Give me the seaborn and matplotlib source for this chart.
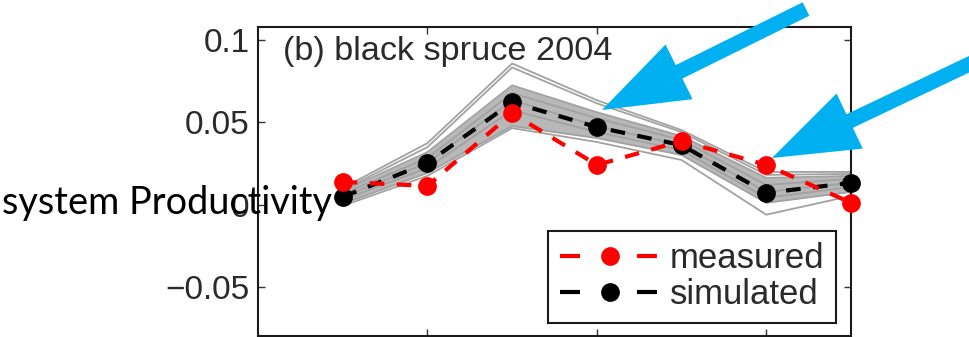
import matplotlib
matplotlib.use("Agg")
import matplotlib.pyplot as plt
from matplotlib.patches import FancyArrow
import numpy as np
import pandas as pd
import seaborn as sns

# ---- data -------------------------------------------------------------
steps = [1, 2, 3, 4, 5, 6, 7]
measured = [0.0139, 0.0114, 0.0554, 0.0241, 0.0386, 0.0241, 0.0012]
simulated = [0.0048, 0.0253, 0.0620, 0.0470, 0.0361, 0.0072, 0.0133]

# ensemble of model runs (parameter perturbations)
run_a = [0.0102, 0.0373, 0.0855, 0.0633, 0.0452, 0.0199, 0.0199]
run_b = [0.0090, 0.0349, 0.0831, 0.0614, 0.0440, 0.0181, 0.0187]
run_c = [0.0084, 0.0319, 0.0723, 0.0560, 0.0416, 0.0163, 0.0175]
run_d = [0.0066, 0.0283, 0.0675, 0.0524, 0.0392, 0.0120, 0.0157]
run_e = [0.0048, 0.0253, 0.0633, 0.0476, 0.0361, 0.0078, 0.0133]
run_f = [0.0030, 0.0223, 0.0572, 0.0440, 0.0331, 0.0042, 0.0108]
run_g = [0.0006, 0.0193, 0.0476, 0.0404, 0.0301, 0.0012, 0.0078]
run_h = [-0.0006, 0.0175, 0.0464, 0.0380, 0.0271, -0.0060, 0.0054]

y_ticks = [-0.05, 0, 0.05, 0.1]
y_tick_labels = ["\u22120.05", "0", "0.05", "0.1"]
x_ticks = [2, 4, 6]

panel_title = "(b) black spruce 2004"
side_label = "system Productivity"

runs = {"a": run_a, "b": run_b, "c": run_c, "d": run_d,
        "e": run_e, "f": run_f, "g": run_g, "h": run_h}
ens = pd.DataFrame([(k, s, v) for k, vals in runs.items() for s, v in zip(steps, vals)],
                   columns=["run", "step", "value"])
obs = pd.DataFrame({"step": steps, "measured": measured, "simulated": simulated})

# ---- style ------------------------------------------------------------
sns.set_theme(style="white")
plt.rcParams["font.family"] = ["Liberation Sans", "DejaVu Sans"]
plt.rcParams["lines.scale_dashes"] = False

W, H, DPI = 970, 337, 100
fig = plt.figure(figsize=(W / DPI, H / DPI), dpi=DPI, facecolor="white")
ax = fig.add_axes([258 / W, 1 - 335.5 / H, (851 - 258) / W, (335.5 - 27) / H])
ax.set_facecolor("white")

# band of ensemble runs
band_lo = np.minimum.reduce([run_c, run_d, run_e, run_f, run_g])
band_hi = np.maximum.reduce([run_c, run_d, run_e, run_f, run_g])
ax.fill_between(steps, band_lo, band_hi, color="#b8b8b8", lw=0, zorder=1)
sns.lineplot(data=ens, x="step", y="value", units="run", estimator=None,
             color="#a2a2a2", lw=1.3, ax=ax, zorder=2, legend=False)

dash = (0, (10.5, 9.0))
sns.lineplot(data=obs, x="step", y="simulated", color="black", marker="o",
             markersize=13.5, markeredgewidth=0, lw=3, linestyle=dash,
             ax=ax, zorder=3, label="simulated", clip_on=False)
sns.lineplot(data=obs, x="step", y="measured", color="#ff0000", marker="o",
             markersize=13.5, markeredgewidth=0, lw=3, linestyle=dash,
             ax=ax, zorder=4, label="measured", clip_on=False)

ax.set_xlim(0, 7)
ax.set_ylim(-0.0791, 0.1076)
ax.set_xticks(x_ticks)
ax.set_xticklabels([])
ax.set_yticks(y_ticks)
ax.set_yticklabels(y_tick_labels)
ax.set_xlabel("")
ax.set_ylabel("")
ax.tick_params(direction="in", length=5, width=1, colors="#333333",
               top=True, right=True, left=True, bottom=True,
               labelsize=24, labelcolor="#2a2a2a", pad=6)
for sp in ax.spines.values():
    sp.set_visible(True)
    sp.set_color("#1a1a1a")
    sp.set_linewidth(1.5)

ax.text(25 / 593, (335.5 - 60) / 308.5, panel_title, transform=ax.transAxes,
        fontsize=24.7, color="#2a2a2a", ha="left", va="baseline", zorder=6)

handles, labels = ax.get_legend_handles_labels()
order = [labels.index("measured"), labels.index("simulated")]
leg = ax.legend([handles[i] for i in order], [labels[i] for i in order],
                loc="lower right", bbox_to_anchor=((836 - 258) / 593, (335.5 - 323) / 308.5),
                fontsize=25, frameon=True, fancybox=False, framealpha=1,
                edgecolor="#1a1a1a", handlelength=2.85, handletextpad=0.3,
                borderpad=0.34, labelspacing=0.08, borderaxespad=0)
leg.get_frame().set_linewidth(1.5)
for t in leg.get_texts():
    t.set_color("#2a2a2a")
for ln in leg.get_lines():
    ln.set_linestyle((0, (14.4, 41.0)))

# overlay in pixel coordinates for the label and pointers
ov = fig.add_axes([0, 0, 1, 1], zorder=10)
ov.set_xlim(0, W)
ov.set_ylim(H, 0)
ov.axis("off")
ov.patch.set_alpha(0)

ov.text(2, 214, side_label, fontsize=27.3, family=["Lato", "DejaVu Sans"],
        color="black", ha="left", va="baseline")

blue = "#00b0f0"
for (x0, y0, x1, y1) in [(806, 9, 602, 110), (978, 60, 772, 158)]:
    ov.add_patch(FancyArrow(x0, y0, x1 - x0, y1 - y0, width=15, head_width=61,
                            head_length=86, length_includes_head=True,
                            color=blue, lw=0))

fig.savefig("out.png", dpi=DPI, facecolor="white")
